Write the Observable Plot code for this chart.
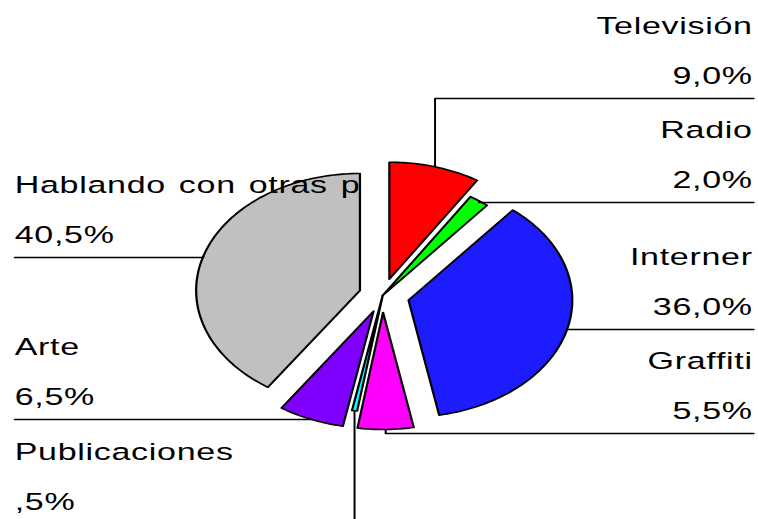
<!DOCTYPE html>
<html><head><meta charset="utf-8">
<script src="https://cdn.jsdelivr.net/npm/d3@7"></script>
<script src="https://cdn.jsdelivr.net/npm/@observablehq/plot@0.6"></script>
<style>html,body{margin:0;padding:0;background:#fff;overflow:hidden}</style>
</head><body><div id="chart"></div>
<script>
// Data
const categories = ["Televisión", "Radio", "Interner", "Graffiti", "Publicaciones", "Arte", "Hablando con otras p"];
const values = [9.0, 2.0, 36.0, 5.5, 0.5, 6.5, 40.5];
const valueLabels = ["9,0%", "2,0%", "36,0%", "5,5%", ",5%", "6,5%", "40,5%"];

// Style / layout
const colors = ["#ff0000", "#00ff00", "#1c1cff", "#ff00ff", "#00ffff", "#8000ff", "#c0c0c0"];
const explode = [17, 0, 19, 17, 0, 17, 17];
const labelSide = ["right", "right", "right", "right", "left", "left", "left"];
const leaderY = [98, 202, 329, 433, 524, 419, 257];

const W = 758, H = 519, S = 1.4;          // horizontal stretch of the original picture
const CW = W / S;                          // compressed drawing width
const cx = 382 / S, cy = 295, r = 117;
const rightX = 752 / S, leftX = 14 / S, lineRight = 753 / S;

const total = d3.sum(values);
const rad = Math.PI / 180;
let acc = 0;
const slices = values.map((v, i) => {
  const a0 = acc / total * 360; acc += v;
  const a1 = acc / total * 360;
  const am = (a0 + a1) / 2;
  const ox = cx + explode[i] * Math.sin(am * rad), oy = cy - explode[i] * Math.cos(am * rad);
  const pts = [{x: ox, y: oy}];
  const n = Math.max(2, Math.ceil(a1 - a0));
  for (let k = 0; k <= n; k++) {
    const a = (a0 + (a1 - a0) * k / n) * rad;
    pts.push({x: ox + r * Math.sin(a), y: oy - r * Math.cos(a)});
  }
  const mid = {x: ox + r * Math.sin(am * rad), y: oy - r * Math.cos(am * rad)};
  return {i, pts, mid};
});

const marks = [];
for (const s of slices) {
  marks.push(Plot.line(s.pts, {x: "x", y: "y", fill: colors[s.i], stroke: "#000", strokeWidth: 1.6, curve: "linear-closed", strokeLinejoin: "round"}));
}
// leader lines
for (const s of slices) {
  const ly = leaderY[s.i];
  let pts;
  if (ly > H) pts = [s.mid, {x: s.mid.x, y: H + 10}];
  else {
    const ex = labelSide[s.i] === "right" ? lineRight : leftX;
    pts = [s.mid, {x: s.mid.x, y: ly}, {x: ex, y: ly}];
  }
  marks.push(Plot.line(pts, {x: "x", y: "y", stroke: "#000", strokeWidth: 1.4}));
}
// labels
const labelData = categories.map((c, i) => ({
  name: c, val: valueLabels[i], side: labelSide[i],
  x: labelSide[i] === "right" ? rightX : leftX,
  y1: leaderY[i] - 65, y2: leaderY[i] - 14.5
}));
for (const side of ["right", "left"]) {
  const d = labelData.filter(l => l.side === side);
  const anchor = side === "right" ? "end" : "start";
  marks.push(Plot.text(d, {x: "x", y: "y1", text: "name", textAnchor: anchor, lineAnchor: "bottom", fontSize: 24.3, fill: "#000"}));
  marks.push(Plot.text(d, {x: "x", y: "y2", text: "val", textAnchor: anchor, lineAnchor: "bottom", fontSize: 24.3, fill: "#000"}));
}

const chart = Plot.plot({
  width: CW, height: H,
  margin: 0,
  x: {domain: [0, CW], range: [0, CW], axis: null},
  y: {domain: [0, H], range: [0, H], axis: null},
  style: {fontFamily: "'Liberation Sans', Arial, sans-serif", letterSpacing: "0.5px", wordSpacing: "2px", background: "#fff", overflow: "visible"},
  marks
});
chart.setAttribute("width", W);
chart.setAttribute("height", H);
chart.setAttribute("viewBox", `0 0 ${CW} ${H}`);
chart.setAttribute("preserveAspectRatio", "none");
chart.style.maxWidth = "none";
chart.style.width = W + "px";
chart.style.height = H + "px";
chart.style.display = "block";
document.getElementById("chart").appendChild(chart);
</script>
</body></html>
